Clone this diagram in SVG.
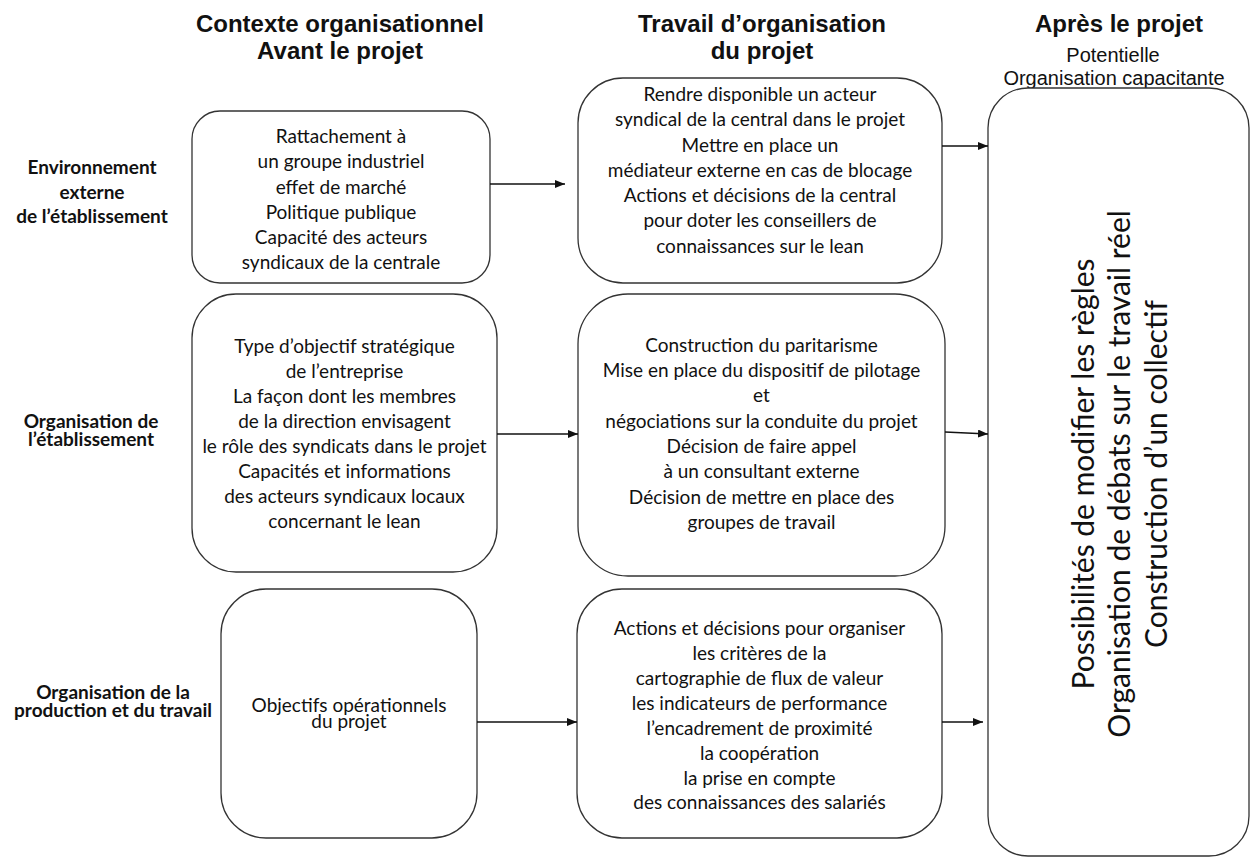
<svg xmlns="http://www.w3.org/2000/svg" width="1250" height="858" viewBox="0 0 1250 858">
<style>
.bg{fill:#ffffff}
.box{fill:#ffffff;stroke:#333333;stroke-width:1.3}
.t{font-family:Lato,"Open Sans","Liberation Sans",sans-serif;font-size:19px;fill:#111111;text-anchor:middle}
.lab{font-family:Lato,"Open Sans","Liberation Sans",sans-serif;font-size:19px;font-weight:bold;fill:#111111;text-anchor:middle}
.h{font-family:"Liberation Sans",Arial,sans-serif;font-size:24px;font-weight:bold;fill:#111111;text-anchor:middle}
.sub{font-family:"Liberation Sans",Arial,sans-serif;font-size:20px;fill:#111111;text-anchor:middle}
.v{font-family:Lato,"Open Sans","Liberation Sans",sans-serif;font-size:30px;fill:#111111;text-anchor:middle}
.c{stroke:#111111;stroke-width:1.3;fill:none;marker-end:url(#ah)}
</style>
<defs>
<marker id="ah" markerWidth="10" markerHeight="8" refX="10" refY="4" orient="auto" markerUnits="userSpaceOnUse">
<path d="M0,0 L10,4 L0,8 Z" fill="#111111"/>
</marker>
</defs>
<rect class="bg" x="0" y="0" width="1250" height="858"/>

<g id="headings">
<text class="h" x="340" y="32">Contexte organisationnel</text>
<text class="h" x="340" y="59">Avant le projet</text>
<text class="h" x="762" y="32">Travail d’organisation</text>
<text class="h" x="762" y="59">du projet</text>
<text class="h" x="1119" y="32">Après le projet</text>
<text class="sub" x="1113" y="62">Potentielle</text>
<text class="sub" x="1114" y="85">Organisation capacitante</text>
</g>

<g id="row-labels">
<text class="lab" x="92" y="174">Environnement</text>
<text class="lab" x="92" y="199">externe</text>
<text class="lab" x="92" y="223">de l’établissement</text>
<text class="lab" x="91" y="428">Organisation de</text>
<text class="lab" x="91" y="446">l’établissement</text>
<text class="lab" x="113" y="699">Organisation de la</text>
<text class="lab" x="113" y="717">production et du travail</text>
</g>

<g id="node-a1">
<rect class="box" x="192" y="111" width="298" height="172" rx="28" ry="28"/>
<text class="t" x="341" y="143">Rattachement à</text>
<text class="t" x="341" y="168">un groupe industriel</text>
<text class="t" x="341" y="193.5">effet de marché</text>
<text class="t" x="341" y="218.5">Politique publique</text>
<text class="t" x="341" y="244">Capacité des acteurs</text>
<text class="t" x="341" y="269">syndicaux de la centrale</text>
</g>

<g id="node-a2">
<rect class="box" x="192" y="294" width="305" height="278" rx="44" ry="44"/>
<text class="t" x="344.5" y="353">Type d’objectif stratégique</text>
<text class="t" x="344.5" y="378">de l’entreprise</text>
<text class="t" x="344.5" y="403">La façon dont les membres</text>
<text class="t" x="344.5" y="428">de la direction envisagent</text>
<text class="t" x="344.5" y="453">le rôle des syndicats dans le projet</text>
<text class="t" x="344.5" y="478">Capacités et informations</text>
<text class="t" x="344.5" y="503">des acteurs syndicaux locaux</text>
<text class="t" x="344.5" y="528">concernant le lean</text>
</g>

<g id="node-a3">
<rect class="box" x="221" y="589" width="256" height="249" rx="45" ry="45"/>
<text class="t" x="349" y="712">Objectifs opérationnels</text>
<text class="t" x="349" y="728">du projet</text>
</g>

<g id="node-b1">
<rect class="box" x="578" y="78" width="364" height="205" rx="45" ry="45"/>
<text class="t" x="760" y="101">Rendre disponible un acteur</text>
<text class="t" x="760" y="126">syndical de la central dans le projet</text>
<text class="t" x="760" y="151.5">Mettre en place un</text>
<text class="t" x="760" y="177">médiateur externe en cas de blocage</text>
<text class="t" x="760" y="202">Actions et décisions de la central</text>
<text class="t" x="760" y="227">pour doter les conseillers de</text>
<text class="t" x="760" y="253">connaissances sur le lean</text>
</g>

<g id="node-b2">
<rect class="box" x="578" y="294" width="367" height="282" rx="50" ry="50"/>
<text class="t" x="761.5" y="352">Construction du paritarisme</text>
<text class="t" x="761.5" y="377">Mise en place du dispositif de pilotage</text>
<text class="t" x="761.5" y="402">et</text>
<text class="t" x="761.5" y="428">négociations sur la conduite du projet</text>
<text class="t" x="761.5" y="453">Décision de faire appel</text>
<text class="t" x="761.5" y="478">à un consultant externe</text>
<text class="t" x="761.5" y="504">Décision de mettre en place des</text>
<text class="t" x="761.5" y="529">groupes de travail</text>
</g>

<g id="node-b3">
<rect class="box" x="577" y="589" width="365" height="249" rx="45" ry="45"/>
<text class="t" x="759.5" y="635">Actions et décisions pour organiser</text>
<text class="t" x="759.5" y="660">les critères de la</text>
<text class="t" x="759.5" y="685">cartographie de flux de valeur</text>
<text class="t" x="759.5" y="710">les indicateurs de performance</text>
<text class="t" x="759.5" y="735">l’encadrement de proximité</text>
<text class="t" x="759.5" y="760">la coopération</text>
<text class="t" x="759.5" y="785">la prise en compte</text>
<text class="t" x="759.5" y="809">des connaissances des salariés</text>
</g>

<g id="node-c">
<rect class="box" x="988" y="88" width="261" height="768" rx="40" ry="40"/>
<text class="v" transform="translate(1094,474) rotate(-90)">Possibilités de modifier les règles</text>
<text class="v" transform="translate(1130,474) rotate(-90)">Organisation de débats sur le travail réel</text>
<text class="v" transform="translate(1167,474) rotate(-90)">Construction d’un collectif</text>
</g>

<g id="connectors">
<line class="c" x1="490" y1="184" x2="565" y2="184"/>
<line class="c" x1="942" y1="146" x2="988" y2="146"/>
<line class="c" x1="497" y1="434" x2="578" y2="434"/>
<line class="c" x1="945" y1="432" x2="988" y2="434"/>
<line class="c" x1="477" y1="722" x2="577" y2="722"/>
<line class="c" x1="942" y1="722" x2="983" y2="722"/>
</g>
</svg>
